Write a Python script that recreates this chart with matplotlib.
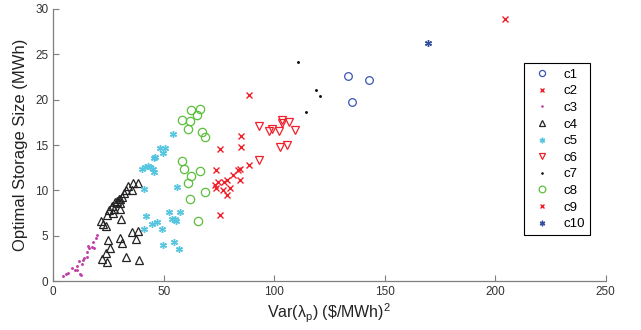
import numpy as np
import matplotlib
matplotlib.use("Agg")
import matplotlib.pyplot as plt

plt.rcParams['font.family'] = ['Liberation Sans', 'DejaVu Sans']
plt.rcParams['mathtext.fontset'] = 'custom'
plt.rcParams['mathtext.rm'] = 'Liberation Sans'

# cluster data: variance of price vs optimal storage size
c1_x = [133.5, 135.0, 142.7]
c1_y = [22.6, 19.7, 22.2]

c2_x = [88.4, 75.3, 85.1, 85.1, 73.6, 88.7, 84.7, 83.6, 81.4, 78.6, 77.4, 74.6,
        73.0, 73.6, 76.8, 80.1, 78.6, 84.4, 75.6]
c2_y = [20.5, 14.6, 16.0, 14.8, 12.2, 12.8, 12.4, 12.2, 11.7, 11.2, 10.9, 10.9,
        10.6, 10.3, 10.0, 10.3, 9.5, 11.1, 7.3]

c3_x = [4.5, 6.0, 8.3, 9.8, 10.9, 12.1, 11.7, 13.6, 15.1, 13.1, 15.4, 16.3,
        15.9, 17.4, 18.5, 19.4, 20.0, 17.9, 14.1, 10.6, 6.8, 12.4]
c3_y = [0.55, 0.84, 1.5, 1.2, 1.7, 0.8, 2.2, 2.3, 2.7, 1.9, 3.2, 3.6,
        3.9, 3.8, 3.6, 4.8, 5.1, 4.3, 2.5, 1.2, 0.85, 0.7]

c4_x = [38.5, 36.0, 34.0, 33.0, 35.6, 32.1, 31.0, 29.9, 30.4, 29.0, 30.0, 28.0,
        26.5, 25.4, 27.6, 27.2, 24.2, 30.0, 30.6, 21.6, 22.4, 23.9, 24.9, 30.2,
        31.0, 35.6, 38.5, 37.4, 25.7, 23.8, 21.9, 24.5, 33.0, 38.7]
c4_y = [10.8, 10.8, 10.5, 10.1, 10.0, 9.7, 9.3, 9.0, 9.0, 8.8, 8.6, 8.7,
        8.3, 7.8, 8.0, 7.5, 7.3, 8.0, 6.9, 6.6, 6.3, 6.1, 4.5, 4.8,
        4.2, 5.4, 5.5, 4.6, 3.6, 3.1, 2.4, 2.1, 2.7, 2.3]

c5_x = [54.0, 48.1, 50.8, 49.6, 46.1, 45.4, 42.8, 41.6, 40.1, 43.9, 45.1, 45.7,
        41.1, 56.0, 52.5, 57.5, 41.9, 53.7, 55.0, 55.5, 46.9, 44.6, 41.3, 49.2,
        54.7, 49.9, 57.1]
c5_y = [16.2, 14.7, 14.7, 14.1, 13.7, 13.6, 12.7, 12.6, 12.4, 12.6, 12.4, 12.0,
        10.2, 10.4, 7.6, 7.6, 7.2, 6.9, 6.8, 6.6, 6.5, 6.3, 5.7, 5.8,
        4.3, 4.0, 3.5]

c6_x = [93.3, 97.5, 98.8, 102.0, 103.6, 103.6, 106.9, 109.6, 102.8, 105.8, 93.3]
c6_y = [17.1, 16.6, 16.8, 16.5, 17.8, 17.4, 17.5, 16.7, 14.8, 15.0, 13.3]

c7_x = [110.8, 119.1, 120.6, 114.6]
c7_y = [24.1, 21.1, 20.4, 18.6]

c8_x = [66.2, 62.3, 65.0, 58.2, 62.0, 60.9, 67.3, 68.5, 58.2, 59.0, 62.3, 66.2,
        61.2, 68.8, 61.7, 65.5]
c8_y = [19.0, 18.9, 18.3, 17.8, 17.6, 16.8, 16.4, 15.9, 13.2, 12.4, 11.6, 12.1,
        10.8, 9.8, 9.0, 6.6]

c9_x = [204.4]
c9_y = [28.9]

c10_x = [169.4]
c10_y = [26.2]

asterisk = (6, 2, 0)

series = [
    ('c1', c1_x, c1_y, dict(marker='o', color='#3a55b4', mfc='none', ms=5.5, mew=0.9)),
    ('c2', c2_x, c2_y, dict(marker='x', color='#f0202a', ms=3.8, mew=1.0)),
    ('c3', c3_x, c3_y, dict(marker='.', color='#c040a8', ms=2.2)),
    ('c4', c4_x, c4_y, dict(marker='^', color='#222222', mfc='none', ms=6, mew=0.9)),
    ('c5', c5_x, c5_y, dict(marker=asterisk, color='#55c5e0', ms=5, mew=1.0)),
    ('c6', c6_x, c6_y, dict(marker='v', color='#f0202a', mfc='none', ms=6, mew=0.9)),
    ('c7', c7_x, c7_y, dict(marker='.', color='#111111', ms=2.2)),
    ('c8', c8_x, c8_y, dict(marker='o', color='#5cbf3c', mfc='none', ms=6, mew=0.9)),
    ('c9', c9_x, c9_y, dict(marker='x', color='#f0202a', ms=3.8, mew=1.0)),
    ('c10', c10_x, c10_y, dict(marker=asterisk, color='#3550a0', ms=5, mew=1.0)),
]

fig = plt.figure(figsize=(6.41, 3.30), dpi=100)
ax = fig.add_axes([0.083, 0.148, 0.862, 0.825])

for name, xs, ys, st in series:
    ax.plot(xs, ys, linestyle='none', label=name, **st)

ax.set_xlim(0, 250)
ax.set_ylim(0, 30)
ax.set_xticks([0, 50, 100, 150, 200, 250])
ax.set_yticks([0, 5, 10, 15, 20, 25, 30])

for s in ['top', 'right']:
    ax.spines[s].set_visible(False)
for s in ['left', 'bottom']:
    ax.spines[s].set_color('#7f7f7f')
    ax.spines[s].set_linewidth(0.9)
ax.tick_params(direction='in', length=4, color='#7f7f7f', labelcolor='#333333',
               labelsize=8.5)

ax.set_ylabel('Optimal Storage Size (MWh)', fontsize=12, color='#222222', labelpad=5)
ax.set_xlabel(r'Var(λ$_\mathrm{p}$) (\$/MWh)$^\mathrm{2}$', fontsize=11.5,
              color='#222222', labelpad=3)

leg = ax.legend(loc='upper right', bbox_to_anchor=(0.972, 0.80), fontsize=9.5,
                frameon=True, fancybox=False, framealpha=1, edgecolor='black',
                labelspacing=0.33, handlelength=2.0, borderpad=0.4,
                handletextpad=0.6, borderaxespad=0, markerscale=0.8)
leg.get_frame().set_linewidth(0.8)

fig.savefig('out.png', dpi=100)
